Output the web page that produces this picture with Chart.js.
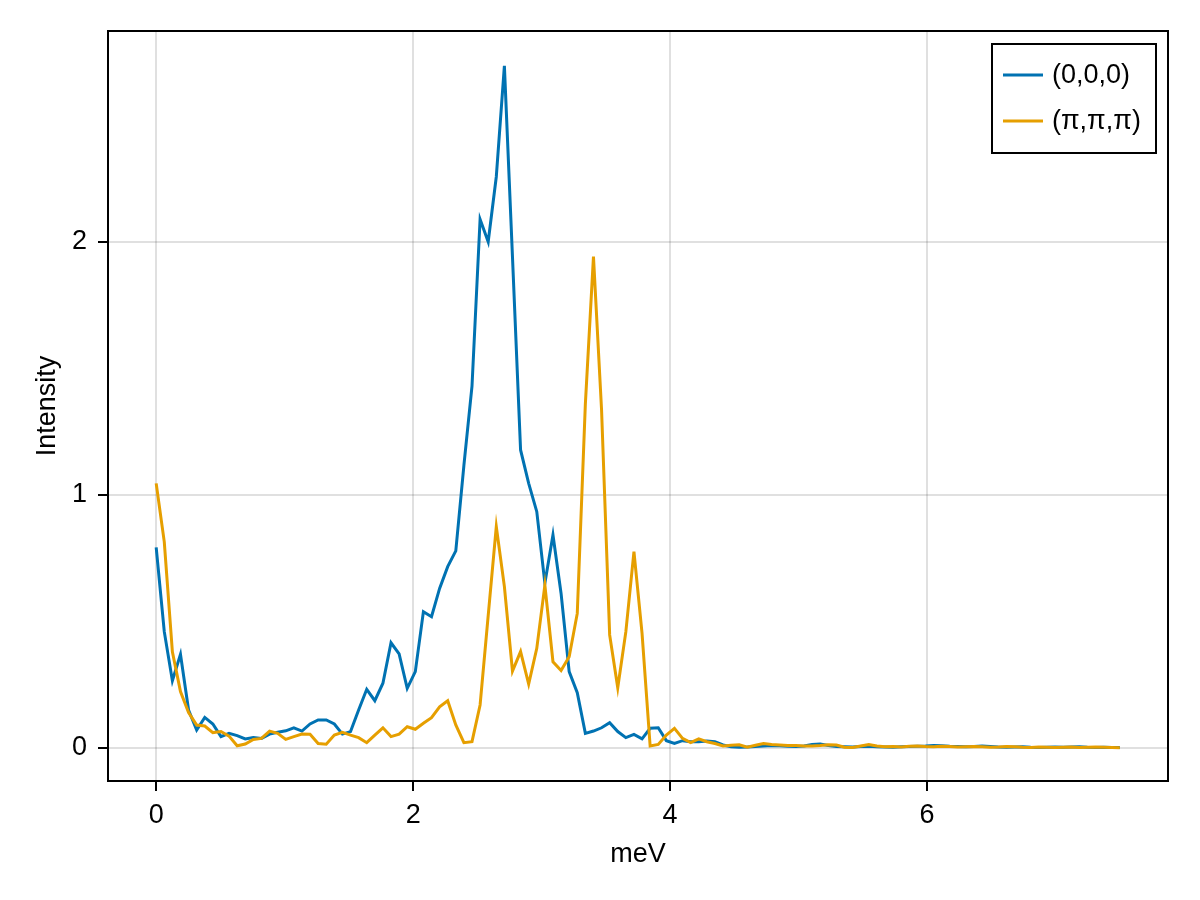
<!DOCTYPE html>
<html>
<head>
<meta charset="utf-8">
<script src="https://cdn.jsdelivr.net/npm/chart.js@4.4.1/dist/chart.umd.min.js"></script>
<style>
  html, body { margin: 0; padding: 0; background: #ffffff; }
  #wrap { width: 1200px; height: 900px; }
</style>
</head>
<body>
<div id="wrap"><canvas id="c" width="1200" height="900"></canvas></div>
<script>
// ---- data ----
const energies = [
  0.0000, 0.0630, 0.1261, 0.1891, 0.2521, 0.3151, 0.3782, 0.4412, 0.5042, 0.5672,
  0.6303, 0.6933, 0.7563, 0.8193, 0.8824, 0.9454, 1.0084, 1.0714, 1.1345, 1.1975,
  1.2605, 1.3235, 1.3866, 1.4496, 1.5126, 1.5756, 1.6387, 1.7017, 1.7647, 1.8277,
  1.8908, 1.9538, 2.0168, 2.0798, 2.1429, 2.2059, 2.2689, 2.3319, 2.3950, 2.4580,
  2.5210, 2.5840, 2.6471, 2.7101, 2.7731, 2.8361, 2.8992, 2.9622, 3.0252, 3.0882,
  3.1513, 3.2143, 3.2773, 3.3403, 3.4034, 3.4664, 3.5294, 3.5924, 3.6555, 3.7185,
  3.7815, 3.8445, 3.9076, 3.9706, 4.0336, 4.0966, 4.1597, 4.2227, 4.2857, 4.3487,
  4.4118, 4.4748, 4.5378, 4.6008, 4.6639, 4.7269, 4.7899, 4.8529, 4.9160, 4.9790,
  5.0420, 5.1050, 5.1681, 5.2311, 5.2941, 5.3571, 5.4202, 5.4832, 5.5462, 5.6092,
  5.6723, 5.7353, 5.7983, 5.8613, 5.9244, 5.9874, 6.0504, 6.1134, 6.1765, 6.2395,
  6.3025, 6.3655, 6.4286, 6.4916, 6.5546, 6.6176, 6.6807, 6.7437, 6.8067, 6.8697,
  6.9328, 6.9958, 7.0588, 7.1218, 7.1849, 7.2479, 7.3109, 7.3739, 7.4370, 7.5000
];

const intensityGamma = [
  0.793, 0.460, 0.266, 0.370, 0.150, 0.071, 0.121, 0.095, 0.045, 0.058,
  0.049, 0.036, 0.041, 0.038, 0.055, 0.062, 0.068, 0.080, 0.067, 0.095,
  0.111, 0.111, 0.095, 0.055, 0.065, 0.150, 0.232, 0.187, 0.256, 0.416,
  0.372, 0.236, 0.302, 0.539, 0.519, 0.631, 0.717, 0.779, 1.117, 1.430,
  2.090, 2.001, 2.258, 2.696, 1.940, 1.178, 1.046, 0.934, 0.651, 0.842,
  0.611, 0.302, 0.219, 0.058, 0.067, 0.080, 0.100, 0.065, 0.041, 0.054,
  0.036, 0.078, 0.080, 0.029, 0.018, 0.029, 0.025, 0.025, 0.028, 0.025,
  0.012, 0.005, 0.003, 0.004, 0.006, 0.008, 0.010, 0.009, 0.007, 0.006,
  0.008, 0.014, 0.016, 0.010, 0.006, 0.005, 0.004, 0.006, 0.007, 0.005,
  0.004, 0.003, 0.005, 0.006, 0.007, 0.008, 0.010, 0.009, 0.007, 0.006,
  0.005, 0.006, 0.008, 0.006, 0.004, 0.003, 0.004, 0.005, 0.003, 0.002,
  0.003, 0.004, 0.003, 0.004, 0.005, 0.003, 0.002, 0.003, 0.002, 0.002
];

const intensityPi = [
  1.046, 0.815, 0.380, 0.223, 0.140, 0.091, 0.087, 0.061, 0.065, 0.047,
  0.009, 0.016, 0.034, 0.038, 0.067, 0.058, 0.034, 0.045, 0.055, 0.054,
  0.018, 0.015, 0.051, 0.062, 0.051, 0.041, 0.021, 0.051, 0.080, 0.045,
  0.055, 0.084, 0.074, 0.098, 0.120, 0.163, 0.187, 0.091, 0.021, 0.025,
  0.170, 0.523, 0.875, 0.638, 0.304, 0.381, 0.253, 0.394, 0.644, 0.341,
  0.306, 0.361, 0.532, 1.360, 1.942, 1.336, 0.447, 0.238, 0.460, 0.776,
  0.453, 0.008, 0.014, 0.051, 0.078, 0.038, 0.021, 0.036, 0.025, 0.018,
  0.008, 0.011, 0.013, 0.003, 0.011, 0.018, 0.014, 0.012, 0.010, 0.010,
  0.008, 0.008, 0.010, 0.013, 0.012, 0.003, 0.002, 0.008, 0.014, 0.008,
  0.005, 0.006, 0.004, 0.007, 0.008, 0.006, 0.005, 0.007, 0.006, 0.004,
  0.005, 0.006, 0.005, 0.003, 0.004, 0.006, 0.005, 0.003, 0.002, 0.004,
  0.003, 0.002, 0.003, 0.004, 0.002, 0.003, 0.004, 0.003, 0.002, 0.001
];

const seriesLabels = ['(0,0,0)', '(\u03c0,\u03c0,\u03c0)'];
const seriesColors = ['#0072B2', '#E69F00'];
const xTickValues = [0, 2, 4, 6];
const yTickValues = [0, 1, 2];

// ---- chart ----
const FONT = "'Liberation Sans', 'Arial', sans-serif";
const FS = 27;

function toPoints(xs, ys) { return xs.map((x, i) => ({ x: x, y: ys[i] })); }

const framePlugin = {
  id: 'frameAndLegend',
  afterDraw(chart) {
    const ctx = chart.ctx;
    const a = chart.chartArea;
    ctx.save();
    // frame
    ctx.strokeStyle = '#000000';
    ctx.lineWidth = 2;
    ctx.strokeRect(a.left, a.top, a.right - a.left, a.bottom - a.top);
    // legend
    const bx = 992, by = 44, bw = 164, bh = 109;
    ctx.fillStyle = '#ffffff';
    ctx.fillRect(bx, by, bw, bh);
    ctx.lineWidth = 2;
    ctx.strokeStyle = '#000000';
    ctx.strokeRect(bx, by, bw, bh);
    ctx.font = FS + 'px ' + FONT;
    ctx.textBaseline = 'middle';
    ctx.textAlign = 'left';
    const rows = [75, 121];
    chart.data.datasets.forEach((ds, i) => {
      const y = rows[i];
      ctx.strokeStyle = ds.borderColor;
      ctx.lineWidth = 3;
      ctx.beginPath();
      ctx.moveTo(1003, y);
      ctx.lineTo(1043, y);
      ctx.stroke();
      ctx.fillStyle = '#000000';
      ctx.fillText(ds.label, 1052, y + 1);
    });
    ctx.restore();
  }
};

new Chart(document.getElementById('c'), {
  type: 'line',
  data: {
    datasets: [
      { label: seriesLabels[0], data: toPoints(energies, intensityGamma), borderColor: seriesColors[0],
        borderWidth: 3, pointRadius: 0, tension: 0, fill: false, order: 1 },
      { label: seriesLabels[1], data: toPoints(energies, intensityPi), borderColor: seriesColors[1],
        borderWidth: 3, pointRadius: 0, tension: 0, fill: false, order: 0 }
    ]
  },
  options: {
    responsive: false,
    animation: false,
    devicePixelRatio: 1,
    layout: { padding: { left: 0, right: 32, top: 31, bottom: 0 } },
    plugins: { legend: { display: false }, tooltip: { enabled: false } },
    elements: { line: { borderJoinStyle: 'miter', borderCapStyle: 'butt' } },
    scales: {
      x: {
        type: 'linear',
        min: -0.375, max: 7.875,
        afterBuildTicks(scale) { scale.ticks = xTickValues.map(v => ({ value: v })); },
        afterFit(scale) { scale.height = 119; },
        ticks: { color: '#000000', font: { family: FONT, size: FS }, padding: 8, maxRotation: 0,
                 callback: v => String(v) },
        grid: { color: 'rgba(0,0,0,0.12)', lineWidth: 2, tickColor: '#000000', tickWidth: 2, tickLength: 10 },
        border: { display: false },
        title: { display: true, text: 'meV', color: '#000000', font: { family: FONT, size: FS },
                 padding: { top: 0, bottom: 29 } }
      },
      y: {
        type: 'linear',
        min: -0.1304, max: 2.834,
        afterBuildTicks(scale) { scale.ticks = yTickValues.map(v => ({ value: v })); },
        afterFit(scale) { scale.width = 108; },
        ticks: { color: '#000000', font: { family: FONT, size: FS }, padding: 11,
                 callback: v => String(v) },
        grid: { color: 'rgba(0,0,0,0.12)', lineWidth: 2, tickColor: '#000000', tickWidth: 2, tickLength: 10 },
        border: { display: false },
        title: { display: true, text: 'Intensity', color: '#000000', font: { family: FONT, size: FS },
                 padding: { top: 31, bottom: 0 } }
      }
    }
  },
  plugins: [framePlugin]
});
</script>
</body>
</html>
